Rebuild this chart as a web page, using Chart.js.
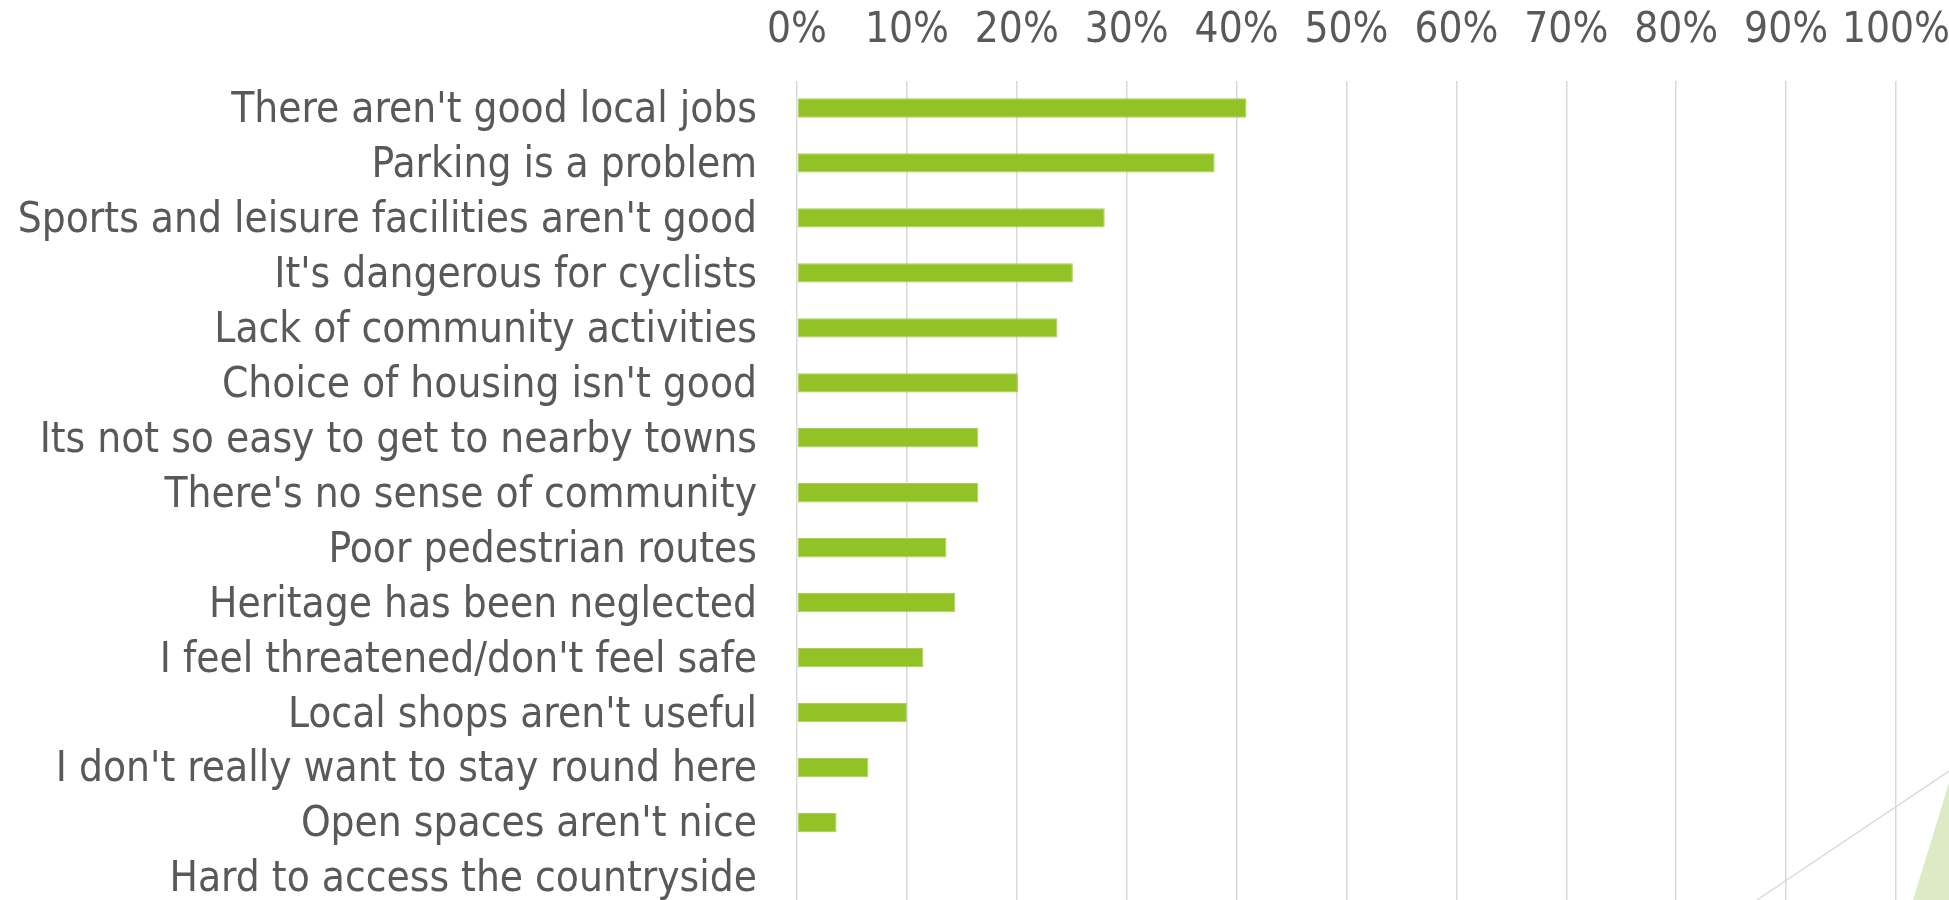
<!DOCTYPE html>
<html>
<head>
<meta charset="utf-8">
<script src="https://cdn.jsdelivr.net/npm/chart.js@4.4.1/dist/chart.umd.min.js"></script>
<style>
    html, body {
        margin: 0;
        padding: 0;
        background: #ffffff;
        overflow: hidden;
    }
    #barChart {
        display: block;
    }
</style>
</head>
<body>
<canvas id="barChart" width="1949" height="905"></canvas>
<script>
const categories = [
    "There aren't good local jobs",
    "Parking is a problem",
    "Sports and leisure facilities aren't good",
    "It's dangerous for cyclists",
    "Lack of community activities",
    "Choice of housing isn't good",
    "Its not so easy to get to nearby towns",
    "There's no sense of community",
    "Poor pedestrian routes",
    "Heritage has been neglected",
    "I feel threatened/don't feel safe",
    "Local shops aren't useful",
    "I don't really want to stay round here",
    "Open spaces aren't nice",
    "Hard to access the countryside",
];

// share of respondents, in percent
const shares = [40.9, 38.0, 28.0, 25.1, 23.7, 20.1, 16.5, 16.5, 13.6, 14.4, 11.5, 10.0, 6.5, 3.6, 0];

const tickMin = 0;
const tickMax = 100;
const tickStep = 10;

const labelFont = {
    family: "'DejaVu Sans Condensed', 'DejaVu Sans', sans-serif",
    size: 42,
};

// slide decoration in the bottom right corner
const cornerDecor = {
    id: "cornerDecor",
    afterDraw(chart) {
        const ctx = chart.ctx;
        ctx.save();
        ctx.fillStyle = "#dcebc4";
        ctx.beginPath();
        ctx.moveTo(1913, 900);
        ctx.lineTo(1949, 783);
        ctx.lineTo(1949, 905);
        ctx.lineTo(1913, 905);
        ctx.closePath();
        ctx.fill();
        ctx.strokeStyle = "#d9d9d9";
        ctx.lineWidth = 1.5;
        ctx.beginPath();
        ctx.moveTo(1757, 900);
        ctx.lineTo(1949, 771);
        ctx.stroke();
        ctx.restore();
    },
};

document.addEventListener("DOMContentLoaded", function () {
    const barCanvas = document.getElementById("barChart");

    new Chart(barCanvas, {
        type: "bar",
        data: {
            labels: categories,
            datasets: [
                {
                    label: "Share",
                    data: shares,
                    backgroundColor: "#92c226",
                    borderColor: "#a9d157",
                    borderWidth: 1,
                    borderSkipped: false,
                    barPercentage: 0.352,
                    categoryPercentage: 1,
                },
            ],
        },
        options: {
            indexAxis: "y",
            responsive: false,
            maintainAspectRatio: false,
            devicePixelRatio: 1,
            animation: false,
            layout: {
                padding: { left: 0, right: 53, top: 0, bottom: 0 },
            },
            plugins: {
                legend: { display: false },
                tooltip: { enabled: false },
            },
            scales: {
                x: {
                    position: "top",
                    min: tickMin,
                    max: tickMax,
                    ticks: {
                        stepSize: tickStep,
                        color: "#595959",
                        font: labelFont,
                        padding: 24,
                        maxRotation: 0,
                        autoSkip: false,
                        callback: (v) => v + "%",
                    },
                    grid: {
                        color: "#d9d9d9",
                        lineWidth: 1.5,
                        drawTicks: false,
                    },
                    border: { display: false },
                    afterFit(scale) {
                        scale.height = 80.5;
                        scale.paddingLeft = 0;
                        scale.paddingRight = 0;
                    },
                },
                y: {
                    ticks: {
                        color: "#595959",
                        font: labelFont,
                        padding: 40,
                        labelOffset: 3,
                        autoSkip: false,
                    },
                    grid: { display: false, drawTicks: false },
                    border: { display: false },
                    afterFit(scale) {
                        scale.width = 797;
                        scale.paddingTop = 0;
                        scale.paddingBottom = 0;
                    },
                },
            },
        },
        plugins: [cornerDecor],
    });
});
</script>
</body>
</html>
